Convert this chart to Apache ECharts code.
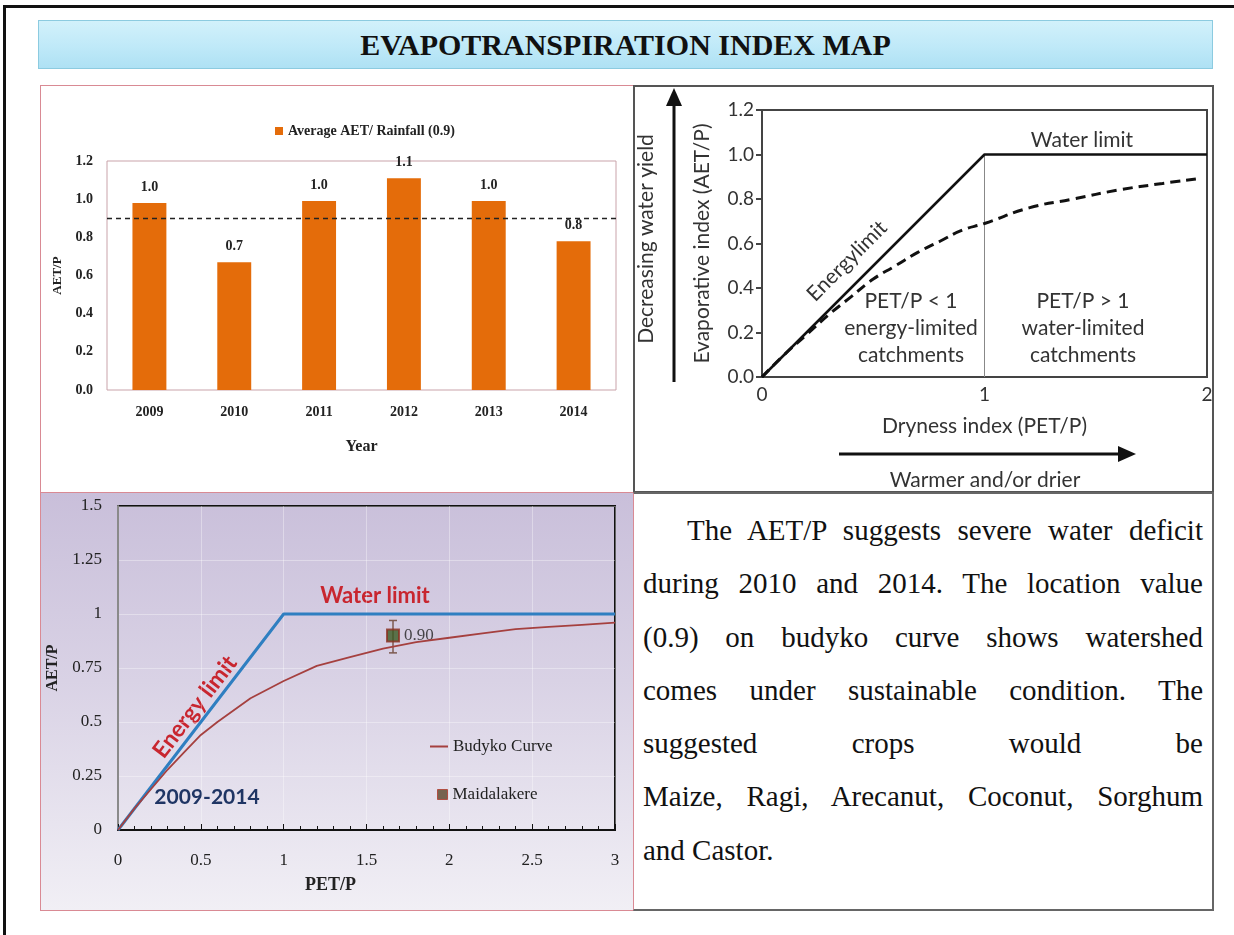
<!DOCTYPE html>
<html>
<head>
<meta charset="utf-8">
<script src="https://cdn.jsdelivr.net/npm/echarts@6.0.0/dist/echarts.min.js"></script>
<style>
  body { margin: 0; width: 1234px; height: 935px; background: #fff; position: relative; overflow: hidden; }
  .frame { position: absolute; left: 3px; top: 5px; width: 1260px; height: 960px; border-top: 3px solid #111; border-left: 3px solid #111; }
  .banner { position: absolute; left: 38px; top: 20px; width: 1175px; height: 49px; box-sizing: border-box;
    border: 1px solid #8ccbe0; background: linear-gradient(#d2f1fb, #bfe9f8 55%, #aee1f4);
    font: bold 30px "Liberation Serif", serif; color: #111; text-align: center; line-height: 47px; }
  .panel { position: absolute; box-sizing: border-box; }
  .chart { position: absolute; left: 0; top: 0; right: 0; bottom: 0; }
  #p1 { left: 40px; top: 85px; width: 594px; height: 408px; border: 1px solid #d98a94; }
  #p2 { left: 633px; top: 85px; width: 581px; height: 408px; border: 2px solid #555; }
  #p3 { left: 40px; top: 492px; width: 594px; height: 419px; border: 1px solid #d98a94;
    background: linear-gradient(#c9bfda, #d9d2e5 45%, #f1eff5); }
  #p4 { left: 633px; top: 492px; width: 581px; height: 419px; border: 2px solid #666; border-left: 1px solid #d98a94;
    padding: 10px 9px 0 9px; font: 29px "Liberation Serif", serif; color: #111; }
  #p4 div { line-height: 53.3px; height: 53.3px; text-align: justify; text-align-last: justify; white-space: nowrap; }
  #p4 div.first { text-indent: 44px; }
  #p4 div.last { text-align-last: left; }
</style>
</head>
<body>
<div class="frame"></div>
<div class="banner">EVAPOTRANSPIRATION INDEX MAP</div>
<div class="panel" id="p1"><div class="chart" id="c1"></div></div>
<div class="panel" id="p2"><div class="chart" id="c2"></div></div>
<div class="panel" id="p3"><div class="chart" id="c3"></div></div>
<div class="panel" id="p4"></div>
<script>
// bar chart (top left)
var years = ['2009', '2010', '2011', '2012', '2013', '2014'];
var aetRatio = [0.98, 0.67, 0.99, 1.11, 0.99, 0.78];
var avgRatio = 0.9;

// schematic (top right)
var schemeLimit = [[0, 0], [1, 1], [2, 1]];
var schemeDivider = [[1, 0], [1, 1]];
var schemePet = [0, 0.1, 0.2, 0.3, 0.4, 0.5, 0.6, 0.7, 0.8, 0.9, 1.0, 1.2, 1.4, 1.6, 1.8, 1.95];
var schemeAet = [0, 0.10, 0.19, 0.28, 0.36, 0.44, 0.50, 0.56, 0.61, 0.66, 0.69, 0.76, 0.80, 0.84, 0.87, 0.89];

// budyko chart (bottom left)
var budykoLimit = [[0, 0], [1, 1], [3, 1]];
var budykoPet = [0, 0.1, 0.2, 0.3, 0.4, 0.5, 0.6, 0.8, 1.0, 1.2, 1.4, 1.6, 1.8, 2.0, 2.2, 2.4, 2.6, 2.8, 3.0];
var budykoAet = [0, 0.10, 0.19, 0.28, 0.36, 0.44, 0.50, 0.61, 0.69, 0.76, 0.80, 0.84, 0.87, 0.89, 0.91, 0.93, 0.94, 0.95, 0.96];
var maidalakere = [1.66, 0.90];
var maidalakereErr = [0.82, 0.97];

var noteLines = [
  'The AET/P suggests severe water deficit',
  'during 2010 and 2014. The  location value',
  '(0.9) on budyko curve shows watershed',
  'comes under sustainable condition. The',
  'suggested crops would be',
  'Maize, Ragi, Arecanut, Coconut, Sorghum',
  'and Castor.'
];

var SERIF = '"Liberation Serif", "Times New Roman", serif';
var SANS = 'Lato, "Open Sans", sans-serif';

function zip(a, b) {
  return a.map(function (v, i) { return [v, b[i]]; });
}

// 左上 柱状图
(function () {
  var chart = echarts.init(document.getElementById('c1'));
  var boldSerif = { fontFamily: SERIF, fontWeight: 'bold', color: '#222' };
  chart.setOption({
    animation: false,
    legend: {
      left: 229, top: 33, icon: 'rect', itemWidth: 8, itemHeight: 8,
      textStyle: Object.assign({ fontSize: 14 }, boldSerif),
      data: ['Average AET/ Rainfall (0.9)']
    },
    grid: { left: 66, top: 75, width: 509, height: 229, show: true, borderColor: '#c9a3aa', borderWidth: 1, outerBoundsMode: 'none' },
    xAxis: {
      type: 'category', data: years,
      axisLine: { show: false }, axisTick: { show: false },
      axisLabel: Object.assign({ margin: 15, fontSize: 14 }, boldSerif),
      name: 'Year', nameLocation: 'middle', nameGap: 49,
      nameTextStyle: Object.assign({ fontSize: 16 }, boldSerif)
    },
    yAxis: {
      type: 'value', min: 0, max: 1.2, interval: 0.2,
      axisLine: { show: false }, axisTick: { show: false }, splitLine: { show: false },
      axisLabel: Object.assign({ margin: 14, fontSize: 14, formatter: function (v) { return v.toFixed(1); } }, boldSerif),
      name: 'AET/P', nameLocation: 'middle', nameRotate: 90, nameGap: 40,
      nameTextStyle: Object.assign({ fontSize: 13 }, boldSerif)
    },
    series: [{
      name: 'Average AET/ Rainfall (0.9)',
      type: 'bar',
      data: aetRatio,
      barWidth: '40%',
      itemStyle: { color: '#e46c0a' },
      label: Object.assign({
        show: true, position: 'top', distance: 9, fontSize: 14,
        formatter: function (p) { return p.value.toFixed(1); }
      }, boldSerif),
      markLine: {
        silent: true, symbol: 'none', label: { show: false },
        lineStyle: { color: '#222', type: [5, 4], width: 1.3 },
        data: [{ yAxis: avgRatio }]
      }
    }]
  });
})();

// 右上 示意图
(function () {
  var chart = echarts.init(document.getElementById('c2'));
  var txt = { fontFamily: SANS, fontSize: 21, fill: '#333', align: 'center', verticalAlign: 'middle' };
  chart.setOption({
    animation: false,
    grid: { left: 127, top: 23, width: 445, height: 267, show: true, borderColor: '#444', borderWidth: 2, outerBoundsMode: 'none' },
    xAxis: {
      type: 'value', min: 0, max: 2, interval: 1,
      axisLine: { show: false }, axisTick: { show: false }, splitLine: { show: false },
      axisLabel: { margin: 8, fontFamily: SANS, fontSize: 19, color: '#333' },
      name: 'Dryness index (PET/P)', nameLocation: 'middle', nameGap: 39,
      nameTextStyle: { fontFamily: SANS, fontSize: 21, color: '#333' }
    },
    yAxis: {
      type: 'value', min: 0, max: 1.2, interval: 0.2,
      axisLine: { show: false }, splitLine: { show: false },
      axisTick: { show: true, inside: false, length: 6, lineStyle: { color: '#444', width: 2 } },
      axisLabel: { margin: 8, fontFamily: SANS, fontSize: 19, color: '#333', formatter: function (v) { return v.toFixed(1); } },
      name: 'Evaporative index (AET/P)', nameLocation: 'middle', nameRotate: 90, nameGap: 49,
      nameTextStyle: { fontFamily: SANS, fontSize: 21, color: '#333' }
    },
    series: [
      { type: 'line', data: schemeDivider, symbol: 'none', lineStyle: { color: '#888', width: 1 }, silent: true },
      { type: 'line', data: zip(schemePet, schemeAet), symbol: 'none', smooth: true,
        lineStyle: { color: '#111', width: 3, type: [10, 6] }, silent: true },
      { type: 'line', data: schemeLimit, symbol: 'none', lineStyle: { color: '#111', width: 2.5 }, silent: true }
    ],
    graphic: [
      { type: 'line', shape: { x1: 39, y1: 16, x2: 39, y2: 295 }, style: { stroke: '#111', lineWidth: 3 } },
      { type: 'polygon', shape: { points: [[39, 1], [31, 19], [47, 19]] }, style: { fill: '#111' } },
      { type: 'line', shape: { x1: 204, y1: 367, x2: 486, y2: 367 }, style: { stroke: '#111', lineWidth: 3 } },
      { type: 'polygon', shape: { points: [[501, 367], [483, 359], [483, 375]] }, style: { fill: '#111' } },
      { type: 'text', x: 11, y: 152, rotation: Math.PI / 2, style: Object.assign({ text: 'Decreasing water yield' }, txt) },
      { type: 'text', x: 350, y: 393, style: Object.assign({ text: 'Warmer and/or drier' }, txt) },
      { type: 'text', x: 447, y: 53, style: Object.assign({ text: 'Water limit' }, txt) },
      { type: 'text', x: 212, y: 174, rotation: Math.PI / 4, style: Object.assign({ text: 'Energylimit' }, txt) },
      { type: 'text', x: 276, y: 241, style: Object.assign({ text: 'PET/P < 1\nenergy-limited\ncatchments', lineHeight: 27 }, txt) },
      { type: 'text', x: 448, y: 241, style: Object.assign({ text: 'PET/P > 1\nwater-limited\ncatchments', lineHeight: 27 }, txt) }
    ]
  });
})();

// 左下 Budyko 曲线
(function () {
  var chart = echarts.init(document.getElementById('c3'));
  var serifTxt = { fontFamily: SERIF, fontSize: 17, color: '#222' };
  chart.setOption({
    animation: false,
    backgroundColor: 'transparent',
    legend: [
      { left: 384, top: 240, icon: 'rect', itemWidth: 18, itemHeight: 2, textStyle: serifTxt,
        data: ['Budyko Curve'] },
      { left: 391, top: 288, icon: 'rect', itemWidth: 10, itemHeight: 10, textStyle: serifTxt,
        data: [{ name: 'Maidalakere', itemStyle: { color: '#5b4426', borderColor: '#b23a2a', borderWidth: 1 } }] }
    ],
    grid: { left: 77, top: 13, width: 497, height: 324, show: true, borderColor: '#111', borderWidth: 2, outerBoundsMode: 'none' },
    xAxis: {
      type: 'value', min: 0, max: 3, interval: 0.5,
      axisLine: { show: true, lineStyle: { color: '#111', width: 2 } },
      axisTick: { show: true, inside: true, length: 6, lineStyle: { color: '#111' } },
      minorTick: { show: true, splitNumber: 5, length: 4, lineStyle: { color: '#111' } },
      splitLine: { show: true, lineStyle: { color: 'rgba(255,255,255,0.35)', width: 1 } },
      axisLabel: Object.assign({ margin: 22 }, serifTxt),
      name: 'PET/P', nameLocation: 'middle', nameGap: 46,
      nameTextStyle: { fontFamily: SERIF, fontWeight: 'bold', fontSize: 18, color: '#222', padding: [0, 72, 0, 0] }
    },
    yAxis: {
      type: 'value', min: 0, max: 1.5, interval: 0.25,
      axisLine: { show: true, lineStyle: { color: '#8a8a8a', width: 2 } },
      axisTick: { show: false },
      splitLine: { show: true, lineStyle: { color: 'rgba(255,255,255,0.35)', width: 1 } },
      axisLabel: Object.assign({ margin: 16 }, serifTxt),
      name: 'AET/P', nameLocation: 'middle', nameRotate: 90, nameGap: 48,
      nameTextStyle: { fontFamily: SERIF, fontWeight: 'bold', fontSize: 16, color: '#222' }
    },
    series: [
      { type: 'line', data: budykoLimit, symbol: 'none', lineStyle: { color: '#2f7fc1', width: 3 }, silent: true },
      { name: 'Budyko Curve', type: 'line', data: zip(budykoPet, budykoAet), symbol: 'none',
        color: '#a5403f', lineStyle: { color: '#a5403f', width: 1.8 }, silent: true },
      { type: 'custom', data: [[maidalakere[0], maidalakereErr[0], maidalakereErr[1]]],
        encode: { x: 0, y: [1, 2] }, silent: true,
        renderItem: function (params, api) {
          var lo = api.coord([api.value(0), api.value(1)]);
          var hi = api.coord([api.value(0), api.value(2)]);
          var st = { stroke: '#7d5a50', lineWidth: 1.5 };
          return { type: 'group', children: [
            { type: 'line', shape: { x1: lo[0], y1: lo[1], x2: hi[0], y2: hi[1] }, style: st },
            { type: 'line', shape: { x1: lo[0] - 4, y1: lo[1], x2: lo[0] + 4, y2: lo[1] }, style: st },
            { type: 'line', shape: { x1: hi[0] - 4, y1: hi[1], x2: hi[0] + 4, y2: hi[1] }, style: st }
          ] };
        } },
      { name: 'Maidalakere', type: 'scatter', data: [maidalakere], symbol: 'rect', symbolSize: 12,
        itemStyle: { color: '#3b5a23', borderColor: '#8c3020', borderWidth: 2 },
        label: Object.assign({ show: true, position: 'right', distance: 4,
          formatter: function (p) { return p.value[1].toFixed(2); } }, serifTxt) }
    ],
    graphic: [
      { type: 'text', x: 334, y: 103, style: { text: 'Water limit', fontFamily: SANS, fontWeight: 'bold', fontSize: 22, fill: '#c8262f', align: 'center', verticalAlign: 'middle' } },
      { type: 'text', x: 154, y: 214, rotation: 0.916, style: { text: 'Energy limit', fontFamily: SANS, fontWeight: 'bold', fontSize: 23, fill: '#c8262f', align: 'center', verticalAlign: 'middle' } },
      { type: 'text', x: 166, y: 304, style: { text: '2009-2014', fontFamily: SANS, fontWeight: 'bold', fontSize: 21, fill: '#1f3564', align: 'center', verticalAlign: 'middle' } }
    ]
  });
})();

// 右下 文字说明
(function () {
  var box = document.getElementById('p4');
  noteLines.forEach(function (line, i) {
    var d = document.createElement('div');
    d.textContent = line;
    if (i === 0) d.className = 'first';
    if (i === noteLines.length - 1) d.className = 'last';
    box.appendChild(d);
  });
})();
</script>
</body>
</html>
